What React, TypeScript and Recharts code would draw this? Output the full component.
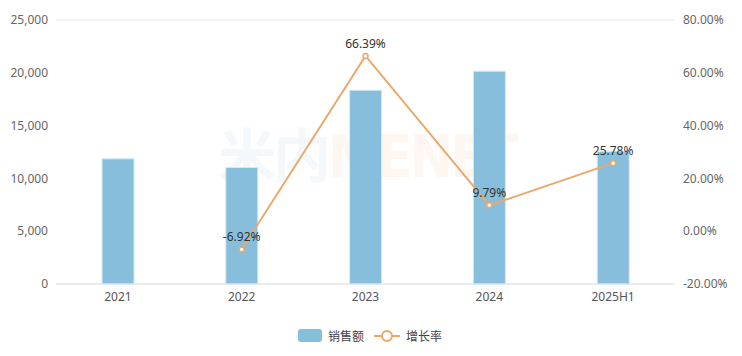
import React from "react"
import {
  ComposedChart,
  Bar,
  Line,
  XAxis,
  YAxis,
  CartesianGrid,
  LabelList,
} from "recharts"

const categories = ["2021", "2022", "2023", "2024", "2025H1"]
const sales = [11850, 11030, 18350, 20150, 12550]
const growth: (number | null)[] = [null, -6.92, 66.39, 9.79, 25.78]
const leftTicks = [0, 5000, 10000, 15000, 20000, 25000]
const rightTicks = [-20, 0, 20, 40, 60, 80]

const data = categories.map((name, i) => ({
  name,
  sales: sales[i],
  growth: growth[i],
}))

const FONT = "'Noto Sans', 'Noto Sans CJK SC', sans-serif"
const BAR_COLOR = "#86bedb"
const LINE_COLOR = "#e8a96b"

export default function App() {
  return (
    <div style={{ position: "absolute", left: 0, top: 0, width: 742, height: 356, fontFamily: FONT }}>
      {/* watermark */}
      <div
        style={{
          position: "absolute",
          left: 218,
          top: 110,
          fontSize: 58,
          fontWeight: 700,
          letterSpacing: -3,
          pointerEvents: "none",
          fontFamily: "'DejaVu Sans Condensed', 'Noto Sans CJK SC', sans-serif",
        }}
      >
        <span style={{ color: "rgba(205, 222, 232, 0.22)", fontFamily: "'Noto Sans CJK SC', sans-serif" }}>米内</span>
        <span style={{ color: "rgba(250, 210, 180, 0.18)" }}>MENET</span>
      </div>
      <ComposedChart
        width={742}
        height={356}
        data={data}
        margin={{ top: 20, right: 0, bottom: 42, left: 0 }}
        style={{ fontFamily: FONT }}
      >
        <CartesianGrid vertical={false} stroke="#e9e9e9" />
        <XAxis
          dataKey="name"
          tickLine={false}
          axisLine={{ stroke: "#e3e3e3" }}
          tick={{ fill: "#555", fontSize: 12 }}
          height={30}
        />
        <YAxis
          yAxisId="left"
          domain={[0, 25000]}
          ticks={leftTicks}
          width={56}
          tickLine={false}
          axisLine={false}
          tick={{ fill: "#666", fontSize: 12 }}
          tickFormatter={(v: number) => v.toLocaleString("en-US")}
        />
        <YAxis
          yAxisId="right"
          orientation="right"
          domain={[-20, 80]}
          ticks={rightTicks}
          width={67}
          tickLine={false}
          axisLine={false}
          tick={{ fill: "#666", fontSize: 12 }}
          tickFormatter={(v: number) => `${v.toFixed(2)}%`}
        />
        <Bar
          yAxisId="left"
          dataKey="sales"
          fill={BAR_COLOR}
          stroke="#d4e9f4"
          strokeWidth={1}
          barSize={32}
          isAnimationActive={false}
        />
        <Line
          yAxisId="right"
          dataKey="growth"
          stroke={LINE_COLOR}
          strokeWidth={2}
          dot={{ r: 2.5, fill: "#fff", stroke: LINE_COLOR, strokeWidth: 1.5 }}
          isAnimationActive={false}
        >
          <LabelList
            dataKey="growth"
            position="top"
            offset={8}
            fill="#333"
            fontSize={12}
            formatter={(v: any) => (v == null ? "" : `${Number(v).toFixed(2)}%`)}
          />
        </Line>
      </ComposedChart>
      {/* legend */}
      <div
        style={{
          position: "absolute",
          left: 298,
          top: 327,
          display: "flex",
          alignItems: "center",
          fontSize: 12,
          color: "#444",
          fontFamily: "'Noto Sans CJK SC', sans-serif",
        }}
      >
        <span style={{ display: "inline-block", width: 24, height: 13, borderRadius: 3, background: BAR_COLOR }} />
        <span style={{ marginLeft: 6 }}>销售额</span>
        <svg width={26} height={14} style={{ marginLeft: 10 }}>
          <line x1={0} y1={7} x2={26} y2={7} stroke={LINE_COLOR} strokeWidth={2} />
          <circle cx={13} cy={7} r={5} fill="#fff" stroke={LINE_COLOR} strokeWidth={2} />
        </svg>
        <span style={{ marginLeft: 6 }}>增长率</span>
      </div>
    </div>
  )
}
